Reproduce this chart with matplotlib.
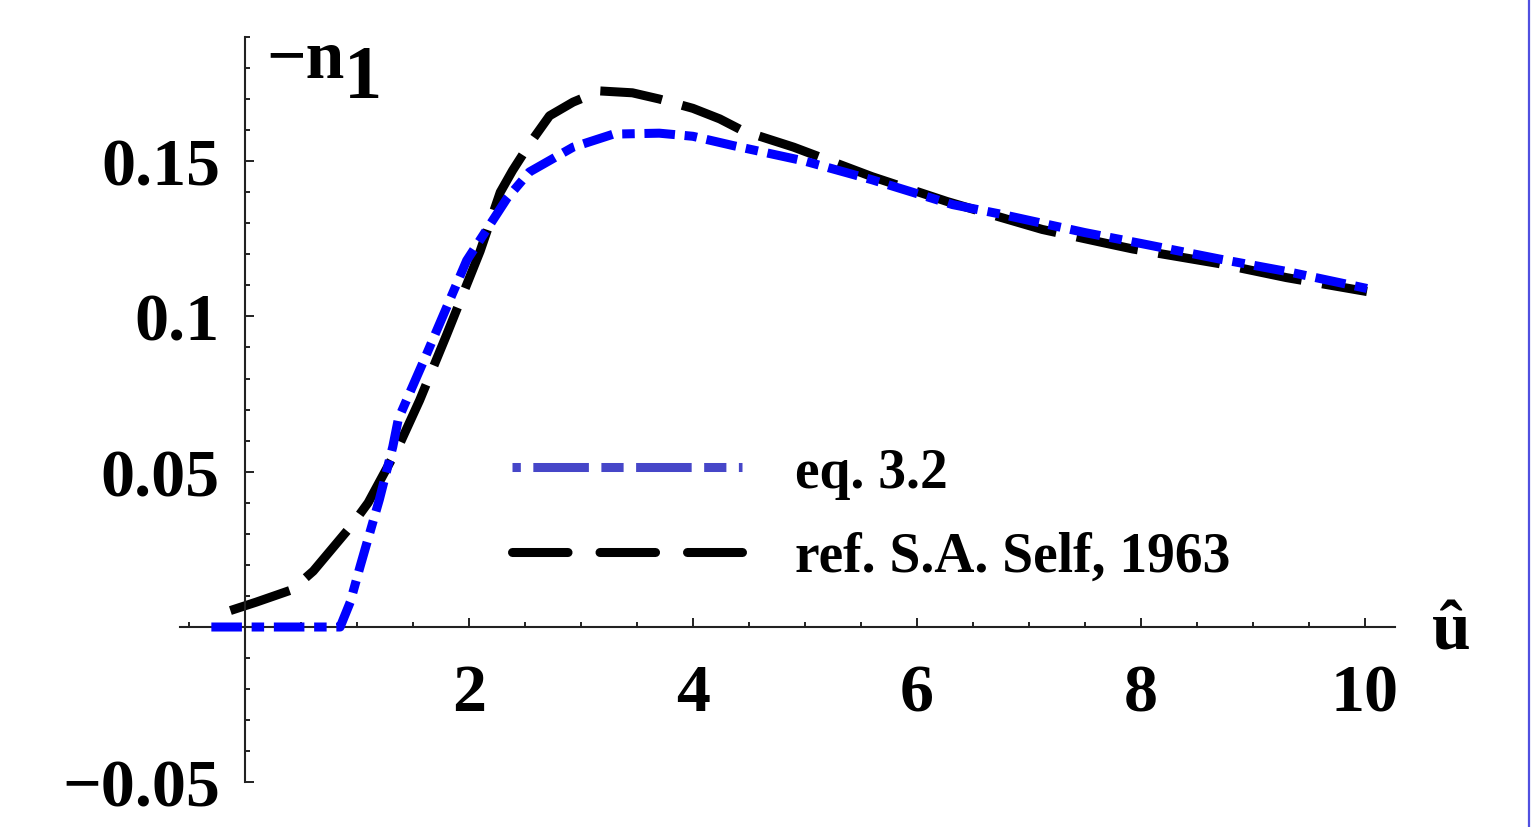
import matplotlib

matplotlib.use("Agg")
import matplotlib.pyplot as plt
import numpy as np
from matplotlib.lines import Line2D
from matplotlib.ticker import FixedLocator, MultipleLocator

plt.rcParams["font.family"] = ["Liberation Serif", "DejaVu Serif"]
plt.rcParams["font.weight"] = "bold"
plt.rcParams["lines.scale_dashes"] = False

# eq. 3.2 (blue, dash-dot)
u_eq = [-0.3, 0.85, 0.94, 1.03, 1.2, 1.32, 1.37, 1.6, 1.98, 2.34, 2.54, 2.93,
        3.29, 3.7, 4.0, 4.36, 5.0, 5.6, 6.32, 6.74, 7.5, 8.0, 8.7, 9.3, 10.02]
n_eq = [0.0, 0.0, 0.008, 0.0197, 0.041, 0.058, 0.067, 0.086, 0.118, 0.138,
        0.1465, 0.1545, 0.1587, 0.159, 0.158, 0.155, 0.150, 0.144, 0.136,
        0.133, 0.127, 0.1235, 0.1185, 0.1145, 0.109]

# ref. S.A. Self, 1963 (black, dashed)
u_self = [-0.13, 0.1, 0.42, 0.61, 0.95, 1.1, 1.37, 1.56, 1.8, 2.1, 2.28, 2.39,
          2.55, 2.72, 2.93, 3.17, 3.46, 3.7, 4.0, 4.24, 4.45, 4.9, 5.6, 6.27,
          6.74, 7.12, 7.63, 7.93, 8.7, 9.3, 10.02]
n_self = [0.0053, 0.008, 0.012, 0.018, 0.0326, 0.040, 0.058, 0.073, 0.094,
          0.121, 0.140, 0.147, 0.156, 0.1646, 0.169, 0.1726, 0.172, 0.170,
          0.167, 0.1636, 0.1597, 0.1545, 0.145, 0.137, 0.132, 0.128, 0.124,
          0.1217, 0.117, 0.1125, 0.108]

labels = ["eq. 3.2", "ref. S.A. Self, 1963"]
x_ticks = [2, 4, 6, 8, 10]
y_ticks = [-0.05, 0.05, 0.1, 0.15]
y_ticklabels = ["\u22120.05", "0.05", "0.1", "0.15"]

W, H = 1531, 828
fig = plt.figure(figsize=(W / 100, H / 100), dpi=100)
ax = fig.add_axes([180 / W, (H - 783.3) / H, (1395 - 180) / W, (783.3 - 37.9) / H])
ax.set_xlim(-0.58, 10.27)
ax.set_ylim(-0.05, 0.19)

lw = 6.5
ax.plot(u_self, n_self, color="black", lw=lw, dashes=(45, 15),
        dash_capstyle="butt", label=labels[1], zorder=2)
ax.plot(u_eq, n_eq, color="#0000ff", lw=lw, dashes=(22, 7, 9, 7),
        dash_capstyle="butt", label=labels[0], zorder=3)

for side in ("top", "right"):
    ax.spines[side].set_visible(False)
ax.spines["left"].set_position(("data", 0))
ax.spines["bottom"].set_position(("data", 0))
for side in ("left", "bottom"):
    ax.spines[side].set_linewidth(1.5)
    ax.spines[side].set_color("#222222")

ax.xaxis.set_major_locator(FixedLocator(x_ticks))
ax.xaxis.set_minor_locator(MultipleLocator(0.5))
ax.yaxis.set_major_locator(FixedLocator(y_ticks))
ax.yaxis.set_minor_locator(MultipleLocator(0.01))
ax.set_yticklabels(y_ticklabels)
ax.tick_params(which="both", direction="in", color="#222222", width=1.4)
ax.tick_params(which="major", length=6.5, labelsize=49)
ax.tick_params(which="minor", length=3.3)
ax.tick_params(axis="x", which="major", pad=26)
ax.tick_params(axis="y", which="major", pad=18)

handles, labs = ax.get_legend_handles_labels()
order = [1, 0]
leg = fig.legend([handles[i] for i in order], [labs[i] for i in order],
                 loc="center left", bbox_to_anchor=(512 / W, (H - 516) / H),
                 frameon=False, fontsize=40, handlelength=4.14,
                 handletextpad=0.95, labelspacing=0.58, borderpad=0,
                 borderaxespad=0)
lh = leg.get_lines()
lh[0].set_color("#4646c8")
lh[0].set_linestyle((59, (40, 9, 16, 9)))
lh[1].set_linestyle((0, (40, 23)))
lh[1].set_dash_capstyle("round")

# axis labels, Mathematica style
ax.text(0.19, 0.177, "\u2212n", fontsize=50, fontweight="bold",
        ha="left", va="baseline")
ax.text(0.88, 0.1705, "1", fontsize=55, fontweight="bold",
        ha="left", va="baseline")
fig.text(1451 / W, (H - 650) / H, "\u00fb", fontsize=50, fontweight="bold",
         ha="center", va="baseline")

# thin blue frame edge at the right of the screenshot
fig.add_artist(Line2D([1528.5 / W, 1528.5 / W], [0, 1], color="#5050e0",
                      lw=1.6, transform=fig.transFigure))

fig.savefig("out.png", dpi=100)
